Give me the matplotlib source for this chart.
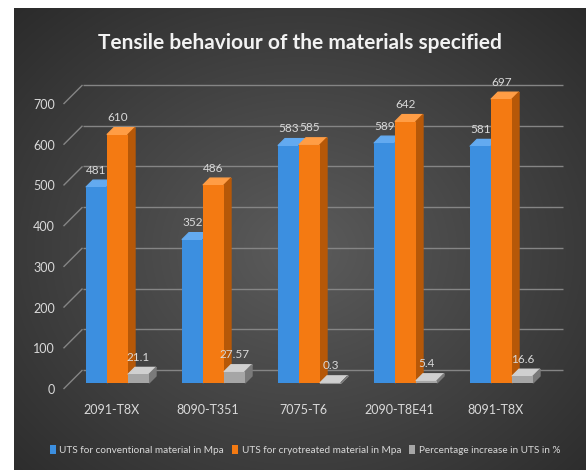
import numpy as np
import matplotlib
matplotlib.use('Agg')
import matplotlib.pyplot as plt
from matplotlib.patches import Polygon
from matplotlib.collections import LineCollection
from matplotlib.transforms import Affine2D, IdentityTransform

categories = ['2091-T8X', '8090-T351', '7075-T6', '2090-T8E41', '8091-T8X']
conventional = [481, 352, 583, 589, 581]
cryotreated = [610, 486, 585, 642, 697]
pct_increase = [21.1, 27.57, 0.3, 5.4, 16.6]
series_names = ['UTS for conventional material in Mpa',
                'UTS for cryotreated material in Mpa',
                'Percentage increase in UTS in %']
yticks = [0, 100, 200, 300, 400, 500, 600, 700]
title = 'Tensile behaviour of the materials specified'

# front / top / side colours per series
colors = [('#3c8fe0', '#63aaf0', '#2a6db3'),
          ('#f47a12', '#ff9d45', '#b65808'),
          ('#a6a6a6', '#d0d0d0', '#7a7a7a')]

plt.rcParams['font.family'] = ['Lato', 'DejaVu Sans']
txt = '#d9d9d9'

W, H = 586, 470
fig = plt.figure(figsize=(W / 100, H / 100), dpi=100, facecolor='white')

# dark panel with radial gradient
bg = fig.add_axes([0, 0, 1, 1])
bg.set_xlim(0, W)
bg.set_ylim(H, 0)
bg.axis('off')
yy, xx = np.mgrid[8:H, 14:W]
r = np.hypot((xx - 300) / 360.0, (yy - 250) / 300.0)
shade = 0.36 - 0.22 * np.clip(r, 0, 1.3) / 1.3
bg.imshow(np.dstack([shade] * 3), extent=(14, W, H, 8), aspect='auto', zorder=0)

# front plane of the 3D chart
ax = fig.add_axes([63.5 / W, (H - 389) / H, 480 / W, 285 / H])
ax.set_xlim(-0.5, 4.5)
ax.set_ylim(0, 700)
ax.set_autoscale_on(False)
ax.patch.set_visible(False)
for s in ax.spines.values():
    s.set_visible(False)

d0, d1, dback = 6, 13, 19   # depth offsets in pixels


def shifted(d):
    return ax.transData + Affine2D().translate(d, d)


# back wall gridlines + diagonals on the side wall
ax.hlines(yticks, -0.5, 4.5, transform=shifted(dback), color='#858585', lw=1,
          zorder=1, clip_on=False)
segs = []
for v in yticks:
    px, py = ax.transData.transform((-0.5, v))
    segs.append([(px, py), (px + dback, py + dback)])
ax.add_collection(LineCollection(segs, colors='#858585', linewidths=1,
                                 transform=IdentityTransform(), zorder=1, clip_on=False))

bw = 0.21875
x = np.arange(len(categories))
handles = []
for k, vals in enumerate([conventional, cryotreated, pct_increase]):
    front, top, side = colors[k]
    xs = x + (k - 1) * bw
    bars = ax.bar(xs, vals, width=bw, color=front, transform=shifted(d0),
                  zorder=5 + 2 * k, clip_on=False)
    handles.append(bars)
    for xc, v in zip(xs, vals):
        (ax0, ay1), (ax1, ay0) = ax.transData.transform([(xc - bw / 2, v), (xc + bw / 2, 0)])
        topf = [(ax0 + d0, ay1 + d0), (ax1 + d0, ay1 + d0), (ax1 + d1, ay1 + d1), (ax0 + d1, ay1 + d1)]
        sidef = [(ax1 + d0, ay1 + d0), (ax1 + d0, ay0 + d0), (ax1 + d1, ay0 + d1), (ax1 + d1, ay1 + d1)]
        ax.add_patch(Polygon(topf, closed=True, color=top, transform=IdentityTransform(),
                             zorder=4 + 2 * k, clip_on=False))
        ax.add_patch(Polygon(sidef, closed=True, color=side, transform=IdentityTransform(),
                             zorder=4 + 2 * k, clip_on=False))
        ax.annotate(f'{v:g}', (xc, v), xytext=(6, 23), textcoords='offset pixels',
                    ha='center', va='center', color=txt, fontsize=8.5, zorder=20)

ax.set_yticks(yticks)
ax.set_xticks(x, categories)
ax.tick_params(axis='y', length=0, pad=6, labelcolor=txt, labelsize=9)
ax.tick_params(axis='x', length=0, pad=11, labelcolor=txt, labelsize=9)

ttl = fig.text(300 / W, 1 - 43 / H, title, ha='center', va='center', color='#f2f2f2',
               fontsize=17, fontweight='bold')

leg = ax.legend(handles, series_names, loc='center', bbox_to_anchor=(305 / W, 1 - 450 / H),
                bbox_transform=fig.transFigure, ncol=3, frameon=False, handlelength=0.5,
                handleheight=0.9, handletextpad=0.3, columnspacing=0.7, labelcolor=txt,
                fontsize=8.5)

# shrink title / legend text to the widths seen in the reference
fig.canvas.draw()
rend = fig.canvas.get_renderer()
tw = ttl.get_window_extent(rend).width
if tw > 405:
    ttl.set_fontsize(17 * 405 / tw)
lw_ = leg.get_window_extent(rend).width
if lw_ > 515:
    for t in leg.get_texts():
        t.set_fontsize(8.5 * 515 / lw_)

fig.savefig('out.png', dpi=100, facecolor='white')
